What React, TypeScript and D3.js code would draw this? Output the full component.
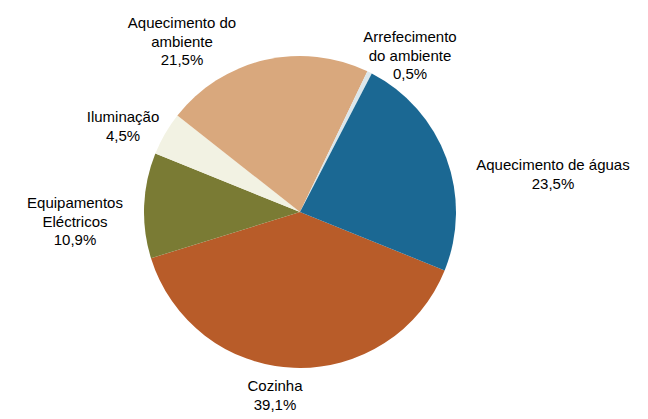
import React from "react";
import * as d3 from "d3";

const categories = [
  "Cozinha",
  "Equipamentos Eléctricos",
  "Iluminação",
  "Aquecimento do ambiente",
  "Arrefecimento do ambiente",
  "Aquecimento de águas",
];
const values = [39.1, 10.9, 4.5, 21.5, 0.5, 23.5];
const labelLines = [
  ["Cozinha", "39,1%"],
  ["Equipamentos", "Eléctricos", "10,9%"],
  ["Iluminação", "4,5%"],
  ["Aquecimento do", "ambiente", "21,5%"],
  ["Arrefecimento", "do ambiente", "0,5%"],
  ["Aquecimento de águas", "23,5%"],
];
const colors = ["#b85c29", "#7a7b34", "#f2f2e3", "#d9a87d", "#dce7eb", "#1b6893"];
// label centers (x, first-line y)
const labelPos: [number, number][] = [
  [275, 391],
  [75, 208],
  [123, 122],
  [182, 28],
  [410, 42],
  [553, 170],
];

export default function App() {
  const W = 648, H = 419;
  const cx = 300, cy = 212, r = 156;
  const start = (112 / 180) * Math.PI;
  const pie = d3.pie<number>().sort(null).startAngle(start).endAngle(start + 2 * Math.PI);
  const arcs = pie(values);
  const arc = d3.arc<d3.PieArcDatum<number>>().innerRadius(0).outerRadius(r);
  return (
    <svg width={W} height={H} style={{ position: "absolute", left: 0, top: 0 }}
      fontFamily="Liberation Sans, Arial, sans-serif" fontSize={15}>
      <rect width={W} height={H} fill="#fff" />
      <g transform={`translate(${cx},${cy})`}>
        {arcs.map((a, i) => (
          <path key={categories[i]} d={arc(a) || ""} fill={colors[i]} />
        ))}
      </g>
      {labelLines.map((lines, i) => (
        <text key={i} x={labelPos[i][0]} y={labelPos[i][1]} textAnchor="middle" fill="#000">
          {lines.map((l, j) => (
            <tspan key={j} x={labelPos[i][0]} dy={j === 0 ? 0 : 18.5}>{l}</tspan>
          ))}
        </text>
      ))}
    </svg>
  );
}
